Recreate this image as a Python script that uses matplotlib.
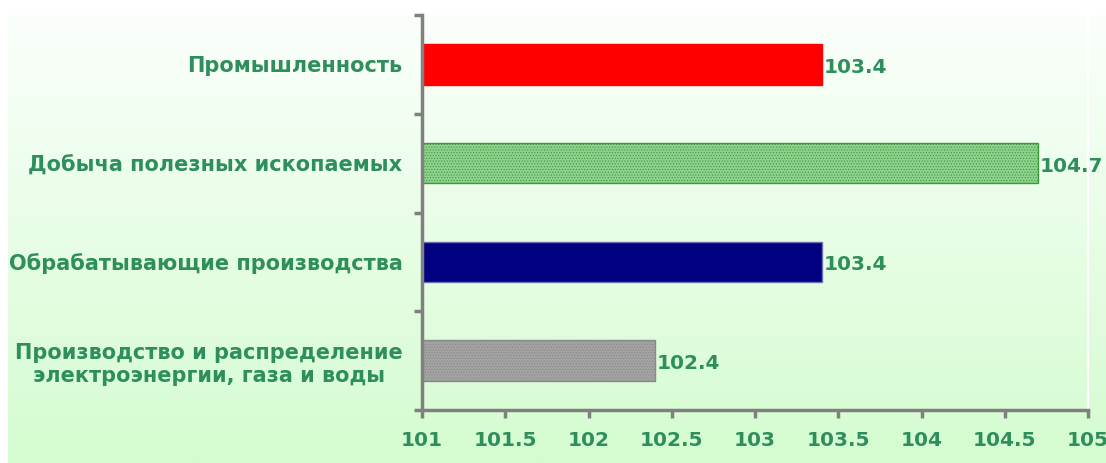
import numpy as np
import matplotlib
matplotlib.use('Agg')
from matplotlib import pyplot as plt
from matplotlib.colors import LinearSegmentedColormap

categories = ['Промышленность',
              'Добыча полезных ископаемых',
              'Обрабатывающие производства',
              'Производство и распределение\nэлектроэнергии, газа и воды']
values = [103.4, 104.7, 103.4, 102.4]
bar_colors = ['#ff0000', '#8fd18f', '#000080', '#a3a3a3']
edge_colors = ['#ff0000', '#3a9a3a', '#6f6fb0', '#8a8a8a']
hatches = ['', '......', '', '......']
hatch_colors = ['#ff0000', '#6cbc6c', '#000080', '#858585']
xticks = [101, 101.5, 102, 102.5, 103, 103.5, 104, 104.5, 105]

green = '#2e8f5c'
gray = '#808080'

plt.rcParams['font.family'] = ['DejaVu Sans']
plt.rcParams['font.weight'] = 'bold'

fig = plt.figure(figsize=(11.06, 4.63), dpi=100)

# gradient background
bg = fig.add_axes([8 / 1106, 0, 1 - 8 / 1106, 1 - 15 / 463])
cmap = LinearSegmentedColormap.from_list('bg', ['#fbfffb', '#d4fcd0'])
grad = np.linspace(0, 1, 256).reshape(-1, 1)
bg.imshow(grad, aspect='auto', cmap=cmap, extent=[0, 1, 1, 0])
bg.set_axis_off()

ax = fig.add_axes([422 / 1106, 1 - 410 / 463, (1088 - 422) / 1106, (410 - 15) / 463])
ax.patch.set_alpha(0)

y = np.arange(len(categories))
for i in range(len(categories)):
    plt.rcParams['hatch.color'] = hatch_colors[i]
    plt.rcParams['hatch.linewidth'] = 0.5
    ax.barh(y[i], values[i] - 101, left=101, height=0.41, color=bar_colors[i],
            edgecolor=edge_colors[i], linewidth=1, hatch=hatches[i])
    ax.text(values[i] + 0.01, y[i] + 0.03, f'{values[i]:.1f}', va='center', ha='left',
            color=green, fontsize=14.5, fontweight='bold')

ax.set_xlim(101, 105)
ax.set_ylim(len(categories) - 0.5, -0.5)
ax.set_xticks(xticks)
ax.set_xticklabels([f'{t:g}' for t in xticks], color=green, fontsize=14.5, fontweight='bold')
ax.set_yticks(y)
ax.set_yticklabels(categories, color=green, fontsize=15, fontweight='bold',
                   multialignment='center')
ax.set_yticks(np.arange(-0.5, len(categories)), minor=True)
ax.tick_params(axis='y', which='major', length=0, pad=14)
ax.tick_params(axis='y', which='minor', length=6, width=2.5, color=gray)
ax.tick_params(axis='x', length=6, width=2.5, color=gray, pad=9)

for s in ['top', 'right']:
    ax.spines[s].set_visible(False)
for s in ['left', 'bottom']:
    ax.spines[s].set_color(gray)
    ax.spines[s].set_linewidth(2.5)
ax.axvline(105, color='white', linewidth=1.5, ymin=0, ymax=1.1, clip_on=False)

fig.savefig('out.png', dpi=100)
